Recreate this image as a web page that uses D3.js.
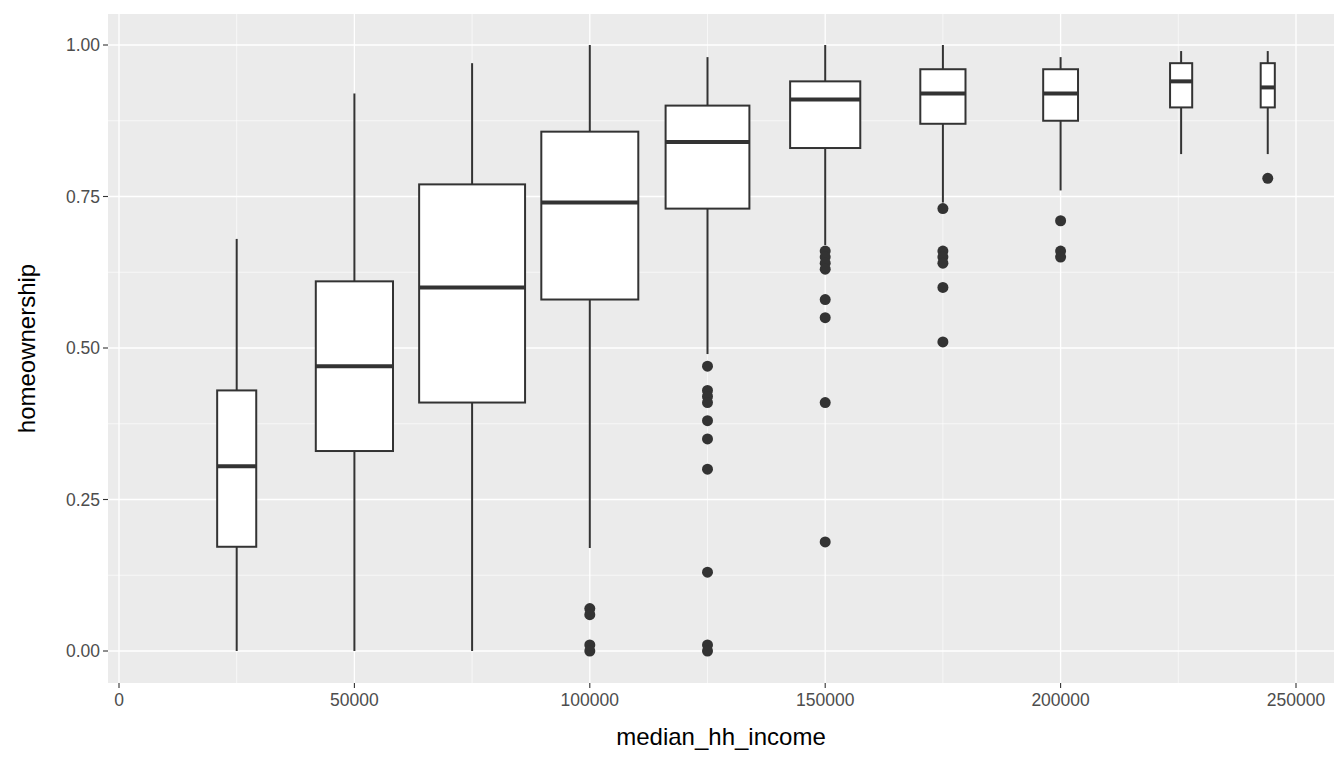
<!DOCTYPE html>
<html lang="en">
<head>
<meta charset="UTF-8">
<script src="https://cdn.jsdelivr.net/npm/d3@7"></script>
<style>
  html, body { margin: 0; padding: 0; background: #fff; overflow: hidden; }
  text { font-family: "Liberation Sans", Arial, sans-serif; }
</style>
</head>
<body>
<script>
// group centres (income) and box widths (income units)
let centers = [25000, 50000, 75000, 100000, 125000, 150000, 175000, 200000, 225600, 244000];
let widths  = [8300, 16400, 22500, 20600, 17800, 14900, 9600, 7400, 4700, 3000];
let lowWhisk = [0.00, 0.00, 0.00, 0.17, 0.49, 0.67, 0.74, 0.76, 0.82, 0.82];
let q1       = [0.172, 0.33, 0.41, 0.58, 0.73, 0.83, 0.87, 0.875, 0.897, 0.897];
let medians  = [0.305, 0.47, 0.60, 0.74, 0.84, 0.91, 0.92, 0.92, 0.94, 0.93];
let q3       = [0.43, 0.61, 0.77, 0.857, 0.90, 0.94, 0.96, 0.96, 0.97, 0.97];
let highWhisk= [0.68, 0.92, 0.97, 1.00, 0.98, 1.00, 1.00, 0.98, 0.99, 0.99];
let outliers = [
  [], [], [],
  [0.07, 0.06, 0.01, 0.00],
  [0.47, 0.43, 0.42, 0.41, 0.38, 0.35, 0.30, 0.13, 0.01, 0.00],
  [0.66, 0.65, 0.64, 0.63, 0.58, 0.55, 0.41, 0.18],
  [0.73, 0.66, 0.65, 0.64, 0.60, 0.51],
  [0.71, 0.66, 0.65],
  [],
  [0.78]
];
let xTicks = [0, 50000, 100000, 150000, 200000, 250000];
let xMinor = [25000, 75000, 125000, 175000, 225000];
let yTicks = [0, 0.25, 0.5, 0.75, 1.0];
let yMinor = [0.125, 0.375, 0.625, 0.875];

let W = 1344, H = 768;
let panel = {l: 108, r: 1334, t: 14, b: 683};

let x = d3.scaleLinear().domain([0, 250000]).range([119, 1296]);
let y = d3.scaleLinear().domain([0, 1]).range([651, 45]);

let svg = d3.select('body').append('svg').attr('width', W).attr('height', H);

svg.append('rect').attr('x', panel.l).attr('y', panel.t)
  .attr('width', panel.r - panel.l).attr('height', panel.b - panel.t).attr('fill', '#ebebeb');

let grid = svg.append('g');
xMinor.forEach(v => grid.append('line').attr('x1', x(v)).attr('x2', x(v)).attr('y1', panel.t).attr('y2', panel.b)
  .attr('stroke', '#fff').attr('stroke-width', 0.6));
yMinor.forEach(v => grid.append('line').attr('y1', y(v)).attr('y2', y(v)).attr('x1', panel.l).attr('x2', panel.r)
  .attr('stroke', '#fff').attr('stroke-width', 0.6));
xTicks.forEach(v => grid.append('line').attr('x1', x(v)).attr('x2', x(v)).attr('y1', panel.t).attr('y2', panel.b)
  .attr('stroke', '#fff').attr('stroke-width', 1.3));
yTicks.forEach(v => grid.append('line').attr('y1', y(v)).attr('y2', y(v)).attr('x1', panel.l).attr('x2', panel.r)
  .attr('stroke', '#fff').attr('stroke-width', 1.3));

let col = '#333333';
let boxes = svg.append('g').selectAll('g').data(centers).enter().append('g');
boxes.each(function (c, i) {
  let g = d3.select(this);
  let x0 = x(c - widths[i] / 2), x1 = x(c + widths[i] / 2), xc = x(c);
  g.append('line').attr('x1', xc).attr('x2', xc).attr('y1', y(highWhisk[i])).attr('y2', y(q3[i]))
    .attr('stroke', col).attr('stroke-width', 2);
  g.append('line').attr('x1', xc).attr('x2', xc).attr('y1', y(q1[i])).attr('y2', y(lowWhisk[i]))
    .attr('stroke', col).attr('stroke-width', 2);
  g.append('rect').attr('x', x0).attr('y', y(q3[i])).attr('width', x1 - x0).attr('height', y(q1[i]) - y(q3[i]))
    .attr('fill', '#fff').attr('stroke', col).attr('stroke-width', 2);
  g.append('line').attr('x1', x0).attr('x2', x1).attr('y1', y(medians[i])).attr('y2', y(medians[i]))
    .attr('stroke', col).attr('stroke-width', 4);
  outliers[i].forEach(v => g.append('circle').attr('cx', xc).attr('cy', y(v)).attr('r', 5.5).attr('fill', col));
});

// axes
let ax = svg.append('g');
xTicks.forEach(v => {
  ax.append('line').attr('x1', x(v)).attr('x2', x(v)).attr('y1', panel.b).attr('y2', panel.b + 5)
    .attr('stroke', col).attr('stroke-width', 1.1);
  ax.append('text').attr('x', x(v)).attr('y', panel.b + 23).attr('text-anchor', 'middle')
    .attr('font-size', 17.5).attr('fill', '#4d4d4d').text(v);
});
yTicks.forEach(v => {
  ax.append('line').attr('x1', panel.l - 5).attr('x2', panel.l).attr('y1', y(v)).attr('y2', y(v))
    .attr('stroke', col).attr('stroke-width', 1.1);
  ax.append('text').attr('x', panel.l - 8).attr('y', y(v) + 6).attr('text-anchor', 'end')
    .attr('font-size', 17.5).attr('fill', '#4d4d4d').text(v.toFixed(2));
});
svg.append('text').attr('x', (panel.l + panel.r) / 2).attr('y', 745).attr('text-anchor', 'middle')
  .attr('font-size', 24).attr('fill', '#000').text('median_hh_income');
svg.append('text').attr('transform', `translate(35, ${(panel.t + panel.b) / 2}) rotate(-90)`)
  .attr('text-anchor', 'middle').attr('font-size', 24).attr('fill', '#000').text('homeownership');
</script>
</body>
</html>
